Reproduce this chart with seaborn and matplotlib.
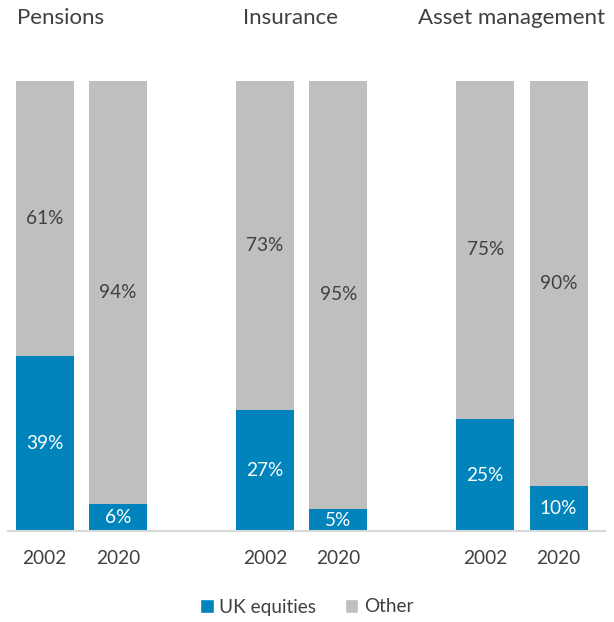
import matplotlib
matplotlib.use("Agg")
import matplotlib.pyplot as plt
from matplotlib.patches import Patch
import seaborn as sns
import pandas as pd

# Share of UK equities in holdings by sector
sectors = ["Pensions", "Insurance", "Asset management"]
years = ["2002", "2020"]
uk_equities = [39, 6, 27, 5, 25, 10]
other = [61, 94, 73, 95, 75, 90]

BLUE = "#0084BB"
GREY = "#BFBFBF"
TEXT = "#404040"

rows = []
for i, sector in enumerate(sectors):
    for j, year in enumerate(years):
        k = i * 2 + j
        rows.append({"sector": sector, "year": year, "pos": i * 3 + j,
                     "uk": uk_equities[k], "other": other[k],
                     "total": uk_equities[k] + other[k]})
df = pd.DataFrame(rows)

sns.set_theme(style="white")
plt.rcParams["font.family"] = ["Lato", "DejaVu Sans"]

fig = plt.figure(figsize=(6.14, 6.22), dpi=100)
ax = fig.add_axes([0.013, 0.1455, 0.972, 0.7243])

sns.barplot(data=df, x="pos", y="total", native_scale=True, color=GREY,
            saturation=1, width=0.79, ax=ax, errorbar=None, linewidth=0)
sns.barplot(data=df, x="pos", y="uk", native_scale=True, color=BLUE,
            saturation=1, width=0.79, ax=ax, errorbar=None, linewidth=0)

for _, r in df.iterrows():
    ax.text(r["pos"], r["uk"] / 2, f"{r['uk']}%", ha="center", va="center",
            color="white", fontsize=13.7)
    ax.text(r["pos"], r["uk"] + r["other"] / 2, f"{r['other']}%",
            ha="center", va="center", color=TEXT, fontsize=13.7)

ax.set_xlim(-0.5, 7.63)
ax.set_ylim(0, 100)
ax.set_xticks(df["pos"])
ax.set_xticklabels(df["year"], fontsize=13.8, color=TEXT)
ax.tick_params(axis="x", length=0, pad=13)
ax.set_yticks([])
ax.set_xlabel("")
ax.set_ylabel("")
for s in ["top", "right", "left"]:
    ax.spines[s].set_visible(False)
ax.spines["bottom"].set_color("#D9D9D9")
ax.spines["bottom"].set_linewidth(1.5)

# Sector headings
W, H = 614, 622
for sector, xp in zip(sectors, [17, 243, 418]):
    fig.text(xp / W, 1 - 18 / H, sector, ha="left", va="center",
             fontsize=16, color=TEXT)

handles = [Patch(facecolor=BLUE, label="UK equities"),
           Patch(facecolor=GREY, label="Other")]
fig.legend(handles=handles, loc="center", bbox_to_anchor=(0.5, 1 - 607 / H),
           ncol=2, frameon=False, fontsize=13.7, handlelength=0.7,
           handleheight=0.7, handletextpad=0.3, columnspacing=1.5,
           labelcolor=TEXT)

fig.savefig("out.png", dpi=100)
